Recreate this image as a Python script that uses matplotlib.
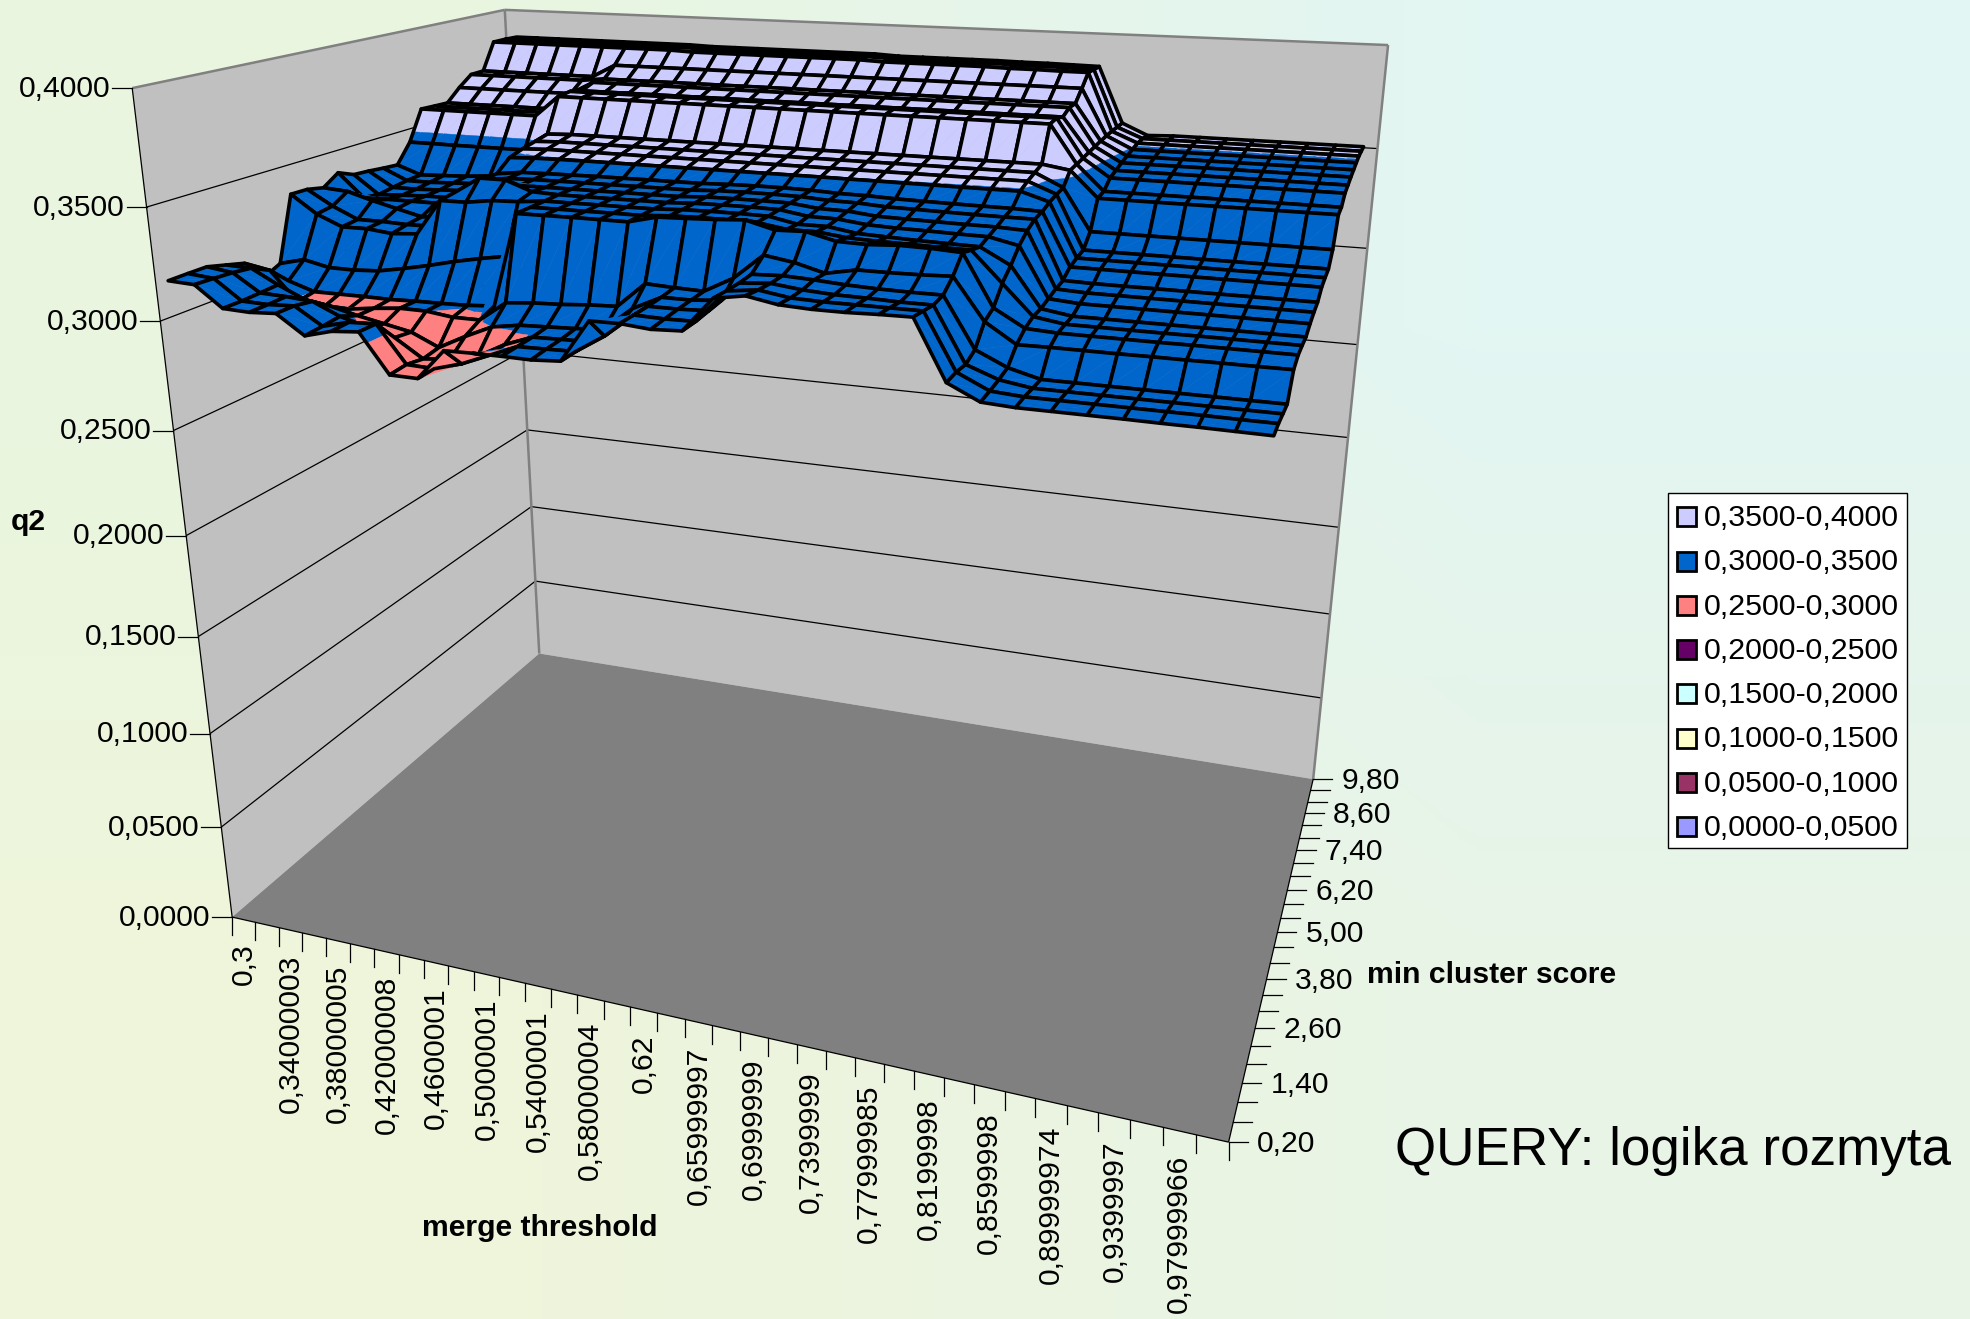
import numpy as np
import matplotlib
matplotlib.use("Agg")
import matplotlib.pyplot as plt
from matplotlib.collections import PolyCollection
from matplotlib.patches import Rectangle

plt.rcParams['font.family'] = ['Liberation Sans', 'DejaVu Sans']

merge_labels = ['0,3', '0,34000003', '0,38000005', '0,42000008', '0,4600001', '0,5000001',
                '0,5400001', '0,58000004', '0,62', '0,65999997', '0,6999999', '0,7399999',
                '0,77999985', '0,8199998', '0,8599998', '0,89999974', '0,9399997', '0,97999966']
score_labels = ['0,20', '1,40', '2,60', '3,80', '5,00', '6,20', '7,40', '8,60', '9,80']
q2_ticks = ['0,0000', '0,0500', '0,1000', '0,1500', '0,2000', '0,2500', '0,3000', '0,3500', '0,4000']
band_labels = ['0,3500-0,4000', '0,3000-0,3500', '0,2500-0,3000', '0,2000-0,2500',
               '0,1500-0,2000', '0,1000-0,1500', '0,0500-0,1000', '0,0000-0,0500']
band_colors = ['#CCCCFF', '#0066CC', '#FF8080', '#660066', '#CCFFFF', '#FFFFCC', '#993366', '#9999FF']

# q2 per min cluster score (rows, 0.2 to 9.8) and merge threshold (columns, 0.30 to 1.00)
q2 = np.array([
    [.3185, .3179, .3086, .3081, .3088, .3003, .3035, .3045, .2872, .2870, .3003, .3005,
     .3005, .3003, .3011, .3190, .3191, .3180, .3186, .3328, .3349, .3326, .3320, .3320,
     .3324, .3326, .3087, .3025, .3018, .3018, .3018, .3018, .3017, .3017, .3016, .3015],
    [.3186, .3175, .3086, .3082, .3088, .3010, .3040, .3045, .2880, .2875, .2910, .2960,
     .3010, .3012, .3015, .3093, .3192, .3188, .3190, .3325, .3340, .3320, .3316, .3316,
     .3316, .3316, .3090, .3029, .3020, .3020, .3020, .3020, .3020, .3020, .3019, .3019],
    [.3186, .3170, .3090, .3085, .3075, .3020, .2985, .2950, .2868, .2880, .2905, .2970,
     .3015, .3018, .3020, .3106, .3195, .3195, .3200, .3325, .3335, .3320, .3312, .3310,
     .3306, .3306, .3083, .3035, .3015, .3015, .3015, .3015, .3015, .3015, .3015, .3015],
    [.3164, .3160, .3095, .3040, .3020, .2990, .2965, .2940, .2883, .2945, .3000, .3020,
     .3025, .3030, .3040, .3140, .3200, .3200, .3210, .3330, .3335, .3329, .3320, .3315,
     .3313, .3313, .3106, .3046, .3012, .3012, .3012, .3012, .3012, .3012, .3012, .3012],
    [.3142, .3120, .2985, .2970, .2975, .2990, .3002, .3001, .2985, .2985, .3074, .3085,
     .3090, .3100, .3105, .3215, .3209, .3205, .3272, .3379, .3359, .3325, .3350, .3350,
     .3352, .3357, .3185, .3103, .3105, .3105, .3105, .3106, .3106, .3107, .3107, .3108],
    [.3045, .3040, .3000, .3000, .3000, .2998, .3002, .3003, .3006, .3015, .3439, .3440,
     .3441, .3441, .3441, .3471, .3475, .3480, .3488, .3455, .3459, .3428, .3425, .3432,
     .3430, .3423, .3208, .3135, .3128, .3128, .3128, .3128, .3129, .3129, .3129, .3129],
    [.3081, .3110, .3083, .3082, .3089, .3111, .3136, .3165, .3189, .3210, .3440, .3441,
     .3441, .3442, .3442, .3450, .3452, .3452, .3450, .3430, .3430, .3415, .3410, .3408,
     .3405, .3404, .3277, .3150, .3130, .3130, .3130, .3130, .3131, .3131, .3131, .3131],
    [.3383, .3298, .3247, .3248, .3235, .3244, .3408, .3409, .3426, .3430, .3442, .3442,
     .3443, .3443, .3444, .3450, .3452, .3452, .3450, .3425, .3425, .3405, .3400, .3395,
     .3392, .3389, .3321, .3150, .3130, .3130, .3130, .3130, .3130, .3130, .3130, .3130],
    [.3381, .3310, .3255, .3255, .3250, .3252, .3420, .3495, .3495, .3450, .3445, .3445,
     .3445, .3446, .3446, .3452, .3454, .3454, .3452, .3432, .3430, .3415, .3410, .3408,
     .3405, .3403, .3375, .3160, .3150, .3150, .3150, .3150, .3150, .3150, .3150, .3150],
    [.3364, .3355, .3320, .3290, .3260, .3265, .3425, .3440, .3445, .3445, .3446, .3446,
     .3447, .3447, .3448, .3455, .3456, .3456, .3455, .3440, .3438, .3425, .3422, .3420,
     .3418, .3417, .3411, .3170, .3164, .3164, .3164, .3164, .3164, .3164, .3164, .3164],
    [.3413, .3300, .3300, .3300, .3300, .3300, .3430, .3445, .3448, .3449, .3450, .3450,
     .3451, .3451, .3452, .3458, .3460, .3460, .3458, .3450, .3448, .3440, .3438, .3436,
     .3434, .3433, .3433, .3176, .3173, .3173, .3173, .3173, .3173, .3173, .3173, .3173],
    [.3380, .3289, .3295, .3300, .3300, .3305, .3435, .3450, .3452, .3454, .3456, .3456,
     .3457, .3457, .3458, .3462, .3464, .3464, .3462, .3456, .3455, .3450, .3448, .3446,
     .3445, .3444, .3440, .3205, .3205, .3205, .3205, .3205, .3205, .3205, .3205, .3205],
    [.3374, .3300, .3300, .3305, .3310, .3315, .3490, .3495, .3497, .3498, .3498, .3498,
     .3498, .3498, .3498, .3498, .3498, .3498, .3498, .3497, .3497, .3496, .3496, .3495,
     .3495, .3495, .3456, .3215, .3215, .3215, .3215, .3215, .3215, .3215, .3215, .3215],
    [.3365, .3310, .3310, .3315, .3320, .3325, .3510, .3515, .3515, .3515, .3515, .3515,
     .3515, .3515, .3515, .3515, .3515, .3515, .3515, .3515, .3515, .3515, .3515, .3515,
     .3515, .3515, .3465, .3222, .3222, .3222, .3222, .3222, .3222, .3222, .3222, .3222],
    [.3358, .3315, .3320, .3325, .3335, .3350, .3525, .3530, .3530, .3530, .3530, .3530,
     .3530, .3530, .3530, .3530, .3530, .3530, .3530, .3530, .3530, .3530, .3530, .3530,
     .3530, .3530, .3470, .3278, .3278, .3278, .3278, .3278, .3278, .3278, .3278, .3278],
    [.3453, .3453, .3452, .3452, .3452, .3452, .3540, .3545, .3545, .3545, .3545, .3545,
     .3545, .3545, .3545, .3545, .3545, .3545, .3545, .3545, .3545, .3545, .3545, .3545,
     .3545, .3545, .3525, .3405, .3405, .3405, .3405, .3405, .3405, .3405, .3405, .3405],
    [.3604, .3604, .3604, .3604, .3604, .3604, .3708, .3708, .3708, .3708, .3708, .3708,
     .3708, .3708, .3708, .3708, .3708, .3708, .3708, .3708, .3708, .3708, .3708, .3708,
     .3708, .3708, .3530, .3412, .3412, .3412, .3412, .3412, .3412, .3412, .3412, .3412],
    [.3600, .3600, .3600, .3600, .3600, .3600, .3715, .3715, .3715, .3715, .3715, .3715,
     .3715, .3715, .3715, .3715, .3715, .3715, .3715, .3715, .3715, .3715, .3715, .3715,
     .3715, .3715, .3535, .3450, .3450, .3450, .3450, .3450, .3450, .3450, .3450, .3450],
    [.3597, .3597, .3597, .3597, .3597, .3597, .3700, .3700, .3700, .3700, .3700, .3700,
     .3700, .3700, .3700, .3700, .3700, .3700, .3700, .3700, .3700, .3700, .3700, .3700,
     .3700, .3700, .3540, .3462, .3462, .3462, .3462, .3462, .3462, .3462, .3462, .3462],
    [.3660, .3660, .3660, .3660, .3660, .3660, .3725, .3725, .3725, .3725, .3725, .3725,
     .3725, .3725, .3725, .3725, .3725, .3725, .3725, .3725, .3725, .3725, .3725, .3725,
     .3725, .3725, .3545, .3475, .3475, .3475, .3475, .3475, .3475, .3475, .3475, .3475],
    [.3712, .3712, .3712, .3712, .3712, .3712, .3725, .3725, .3725, .3725, .3725, .3725,
     .3725, .3725, .3725, .3725, .3725, .3725, .3725, .3725, .3725, .3725, .3725, .3725,
     .3725, .3725, .3550, .3485, .3485, .3485, .3485, .3485, .3485, .3485, .3485, .3485],
    [.3714, .3714, .3714, .3714, .3714, .3714, .3780, .3780, .3780, .3780, .3780, .3780,
     .3780, .3780, .3780, .3780, .3780, .3780, .3780, .3780, .3780, .3780, .3780, .3780,
     .3780, .3780, .3555, .3495, .3495, .3495, .3495, .3495, .3495, .3495, .3495, .3495],
    [.3855, .3855, .3855, .3855, .3855, .3855, .3855, .3855, .3855, .3850, .3850, .3850,
     .3850, .3850, .3850, .3850, .3850, .3845, .3845, .3845, .3845, .3845, .3842, .3842,
     .3840, .3840, .3556, .3504, .3504, .3504, .3504, .3504, .3504, .3504, .3504, .3504],
    [.3855, .3855, .3855, .3855, .3855, .3855, .3855, .3855, .3855, .3850, .3850, .3850,
     .3850, .3850, .3850, .3850, .3850, .3845, .3845, .3845, .3845, .3845, .3842, .3842,
     .3840, .3838, .3556, .3505, .3505, .3505, .3505, .3505, .3505, .3505, .3505, .3505],
    [.3852, .3852, .3852, .3852, .3852, .3852, .3852, .3852, .3852, .3848, .3848, .3848,
     .3848, .3848, .3848, .3848, .3848, .3842, .3842, .3842, .3842, .3842, .3840, .3840,
     .3838, .3836, .3556, .3500, .3505, .3505, .3505, .3505, .3505, .3505, .3505, .3505],
])

n_rows, n_cols = q2.shape
z_max = 0.4

# box corners on the canvas: (x, y, z in 0..1) -> pixel, used to solve the perspective camera
box_3d = [(0, 0, 0), (1, 0, 0), (1, 1, 0), (0, 1, 0), (0, 0, 1), (0, 1, 1), (1, 1, 1)]
box_px = [(232.4, 917.3), (1228.5, 1142), (1313.3, 779.3), (539, 653.3), (132, 88), (505, 10), (1388, 45)]

eqs, rhs = [], []
for (u, v, t), (px, py) in zip(box_3d, box_px):
    eqs.append([u, v, t, 1, 0, 0, 0, 0, -px * u, -px * v, -px * t])
    rhs.append(px)
    eqs.append([0, 0, 0, 0, u, v, t, 1, -py * u, -py * v, -py * t])
    rhs.append(py)
cam = np.append(np.linalg.lstsq(np.array(eqs, float), np.array(rhs, float), rcond=None)[0], 1).reshape(3, 4)


def project(u, v, t):
    p = cam @ np.array([u, v, t, 1.0])
    return p[0] / p[2], p[1] / p[2]


def depth(u, v, t):
    return (cam @ np.array([u, v, t, 1.0]))[2]


def clip_z(poly, lo, hi):
    # keep the part of a 3d polygon between two heights
    for level, keep_above in ((lo, True), (hi, False)):
        out = []
        for k in range(len(poly)):
            a, b = poly[k], poly[(k + 1) % len(poly)]
            ina = (a[2] >= level) == keep_above
            inb = (b[2] >= level) == keep_above
            if ina:
                out.append(a)
            if ina != inb:
                s = (level - a[2]) / (b[2] - a[2])
                out.append((a[0] + s * (b[0] - a[0]), a[1] + s * (b[1] - a[1]), level))
        poly = out
        if not poly:
            return []
    return poly


fig = plt.figure(figsize=(19.7, 13.19), dpi=100)
ax = fig.add_axes([0, 0, 1, 1])

# soft page background
bg = np.array([[[0.914, 0.961, 0.878], [0.890, 0.965, 0.953]],
               [[0.937, 0.961, 0.859], [0.910, 0.957, 0.902]]])
ax.imshow(bg, extent=(0, 1970, 1319, 0), interpolation='bilinear', aspect='auto', zorder=0)
ax.set_xlim(0, 1970)
ax.set_ylim(1319, 0)
ax.axis('off')

# walls and floor
left_wall = [project(*c) for c in [(0, 0, 0), (0, 1, 0), (0, 1, 1), (0, 0, 1)]]
back_wall = [project(*c) for c in [(0, 1, 0), (1, 1, 0), (1, 1, 1), (0, 1, 1)]]
floor = [project(*c) for c in [(0, 0, 0), (1, 0, 0), (1, 1, 0), (0, 1, 0)]]
ax.add_collection(PolyCollection([left_wall, back_wall], facecolors='#C0C0C0', edgecolors='none', zorder=1))
ax.add_collection(PolyCollection([floor], facecolors='#808080', edgecolors='none', zorder=1))


def seg(a, b, **kw):
    pa, pb = project(*a), project(*b)
    ax.plot([pa[0], pb[0]], [pa[1], pb[1]], solid_capstyle='butt', **kw)


# gridlines round the two walls
for n in range(1, 8):
    t = n / 8
    seg((0, 0, t), (0, 1, t), color='black', lw=0.9, zorder=2)
    seg((0, 1, t), (1, 1, t), color='black', lw=0.9, zorder=2)

for a, b in [((0, 0, 1), (0, 1, 1)), ((0, 1, 1), (1, 1, 1)), ((0, 1, 0), (0, 1, 1)), ((1, 1, 0), (1, 1, 1))]:
    seg(a, b, color='#808080', lw=1.8, zorder=2)
for a, b in [((0, 0, 0), (0, 0, 1)), ((0, 0, 0), (1, 0, 0)), ((1, 0, 0), (1, 1, 0))]:
    seg(a, b, color='black', lw=0.9, zorder=3)

# surface, farthest cells first, coloured by height band
cells = []
for j in range(n_rows - 1):
    for i in range(n_cols - 1):
        cu = (i + 1.0) / n_cols
        cv = (j + 0.5) / (n_rows - 1)
        ct = q2[j:j + 2, i:i + 2].mean() / z_max
        cells.append((depth(cu, cv, ct), i, j))
cells.sort(key=lambda c: -c[0])

band_lo = [0.35, 0.30, 0.25, 0.20, 0.15, 0.10, 0.05, 0.0]
polys, faces, edges, widths = [], [], [], []
for _, i, j in cells:
    corners = []
    for ii, jj in [(i, j), (i + 1, j), (i + 1, j + 1), (i, j + 1)]:
        corners.append(((ii + 0.5) / n_cols, jj / (n_rows - 1), q2[jj, ii]))
    for tri in ([corners[0], corners[1], corners[2]], [corners[0], corners[2], corners[3]]):
        for lo, color in zip(band_lo, band_colors):
            part = clip_z(tri, lo, lo + 0.05)
            if len(part) >= 3:
                polys.append([project(p[0], p[1], p[2] / z_max) for p in part])
                faces.append(color)
                edges.append(color)
                widths.append(0.3)
    polys.append([project(p[0], p[1], p[2] / z_max) for p in corners])
    faces.append('none')
    edges.append('black')
    widths.append(2.6)

ax.add_collection(PolyCollection(polys, facecolors=faces, edgecolors=edges, linewidths=widths,
                                 joinstyle='round', zorder=4))

# q2 axis
for n, label in enumerate(q2_ticks):
    x, y = project(0, 0, n / 8)
    ax.plot([x - 20, x], [y, y], color='black', lw=0.9, zorder=3)
    ax.text(x - 22, y + 0.5, label, ha='right', va='center', fontsize=21.7, color='black')

# merge threshold axis, labels sit between ticks on every second category
for k in range(n_cols + 1):
    x, y = project(k / n_cols, 0, 0)
    ax.plot([x, x], [y, y + 18], color='black', lw=0.9, zorder=3)
for n, label in enumerate(merge_labels):
    x, y = project((2 * n + 0.5) / n_cols, 0, 0)
    ax.text(x, y + 24, label, rotation=90, ha='center', va='top', fontsize=21.7, color='black')

# min cluster score axis
for j in range(n_rows):
    x, y = project(1, j / (n_rows - 1), 0)
    ax.plot([x, x + 19], [y, y], color='black', lw=0.9, zorder=3)
for n, label in enumerate(score_labels):
    x, y = project(1, 3 * n / (n_rows - 1), 0)
    ax.text(x + 28, y + 2, label, ha='left', va='center', fontsize=21.7, color='black')

ax.text(28, 522, 'q2', ha='center', va='center', fontsize=21.7, fontweight='bold')
ax.text(1366.7, 975, 'min cluster score', ha='left', va='center', fontsize=21.7, fontweight='bold')
ax.text(540, 1228, 'merge threshold', ha='center', va='center', fontsize=21.7, fontweight='bold')
ax.text(1394.6, 1151, 'QUERY: logika rozmyta', ha='left', va='center', fontsize=38.2, color='black')

# legend
ax.add_patch(Rectangle((1668.3, 493.3), 238.4, 355, facecolor='white', edgecolor='black', lw=1.0, zorder=5))
for n, (label, color) in enumerate(zip(band_labels, band_colors)):
    yc = 516.7 + n * 44.3
    ax.add_patch(Rectangle((1676.7, yc - 9.5), 19, 19, facecolor=color, edgecolor='black', lw=2.0, zorder=6))
    ax.text(1704.3, yc + 1.2, label, ha='left', va='center', fontsize=21.9, color='black', zorder=6)

fig.savefig('out.png', dpi=100)
